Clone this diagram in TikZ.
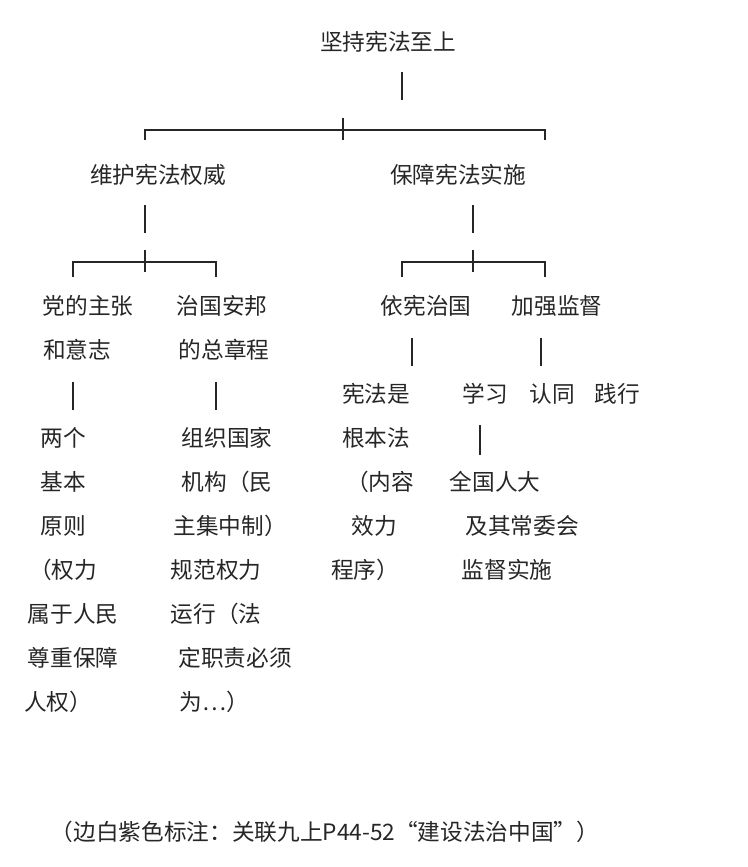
\documentclass[tikz,border=0pt]{standalone}
\usepackage{fontspec}
\setmainfont{Noto Sans CJK SC}
\begin{document}
\begin{tikzpicture}[x=0.75pt,y=-0.75pt,
  txt/.style={font=\fontsize{17}{20}\selectfont, text=black!85, inner sep=0pt},
  tree/.style={black!85, line width=0.9pt}]
\useasboundingbox (0,0) rectangle (747,867);

% 第一层
\node[txt] (root) at (388,42) {坚持宪法至上};
\node[txt] (wh) at (158,175) {维护宪法权威};
\node[txt] (bz) at (458,175) {保障宪法实施};
% lines
\draw[tree] (402,72) -- (402,100);
\draw[tree] (145,140) -- (145,130) -- (545,130) -- (545,140);
\draw[tree] (343,118) -- (343,140);

% 左
\node[txt] (dz1) at (88,306) {党的主张};
\node[txt] (dz2) at (77,350) {和意志};
\node[txt] (zg1) at (222,306) {治国安邦};
\node[txt] (zg2) at (224,350) {的总章程};
\draw[tree] (145,205) -- (145,233);
\draw[tree] (73,277) -- (73,262) -- (216,262) -- (216,277);
\draw[tree] (145,250) -- (145,272);
\draw[tree] (73,382) -- (73,410);
\draw[tree] (216,382) -- (216,410);

\node[txt] (lg1) at (63,438) {两个};
\node[txt] (lg2) at (63,482) {基本};
\node[txt] (lg3) at (63,526) {原则};
\node[txt] (lg4) at (63,570) {（权力};
\node[txt] (lg5) at (73,614) {属于人民};
\node[txt] (lg6) at (73,658) {尊重保障};
\node[txt] (lg7) at (58,702) {人权）};

\node[txt] (zz1) at (227,438) {组织国家};
\node[txt] (zz2) at (227,482) {机构（民};
\node[txt] (zz3) at (230,526) {主集中制）};
\node[txt] (zz4) at (216,570) {规范权力};
\node[txt] (zz5) at (216,614) {运行（法};
\node[txt] (zz6) at (235,658) {定职责必须};
\node[txt] (zz7) at (214,702) {为…）};

% 右
\node[txt] (yx) at (426,306) {依宪治国};
\node[txt] (jq) at (557,306) {加强监督};
\draw[tree] (473,205) -- (473,233);
\draw[tree] (402,277) -- (402,262) -- (545,262) -- (545,277);
\draw[tree] (473,250) -- (473,272);
\draw[tree] (412,338) -- (412,366);
\draw[tree] (541,338) -- (541,366);

\node[txt] (gb1) at (376,394) {宪法是};
\node[txt] (gb2) at (376,438) {根本法};
\node[txt] (gb3) at (380,482) {（内容};
\node[txt] (gb4) at (374,526) {效力};
\node[txt] (gb5) at (365,570) {程序）};

\node[txt] (xx) at (485,394) {学习};
\node[txt] (rt) at (552,394) {认同};
\node[txt] (sx) at (617,394) {践行};
\draw[tree] (480,425) -- (480,455);

\node[txt] (rd1) at (495,482) {全国人大};
\node[txt] (rd2) at (522,526) {及其常委会};
\node[txt] (rd3) at (507,570) {监督实施};

% 注
\node[txt] (note) at (325,832) {（边白紫色标注：关联九上P44-52“建设法治中国”）};
\end{tikzpicture}
\end{document}
